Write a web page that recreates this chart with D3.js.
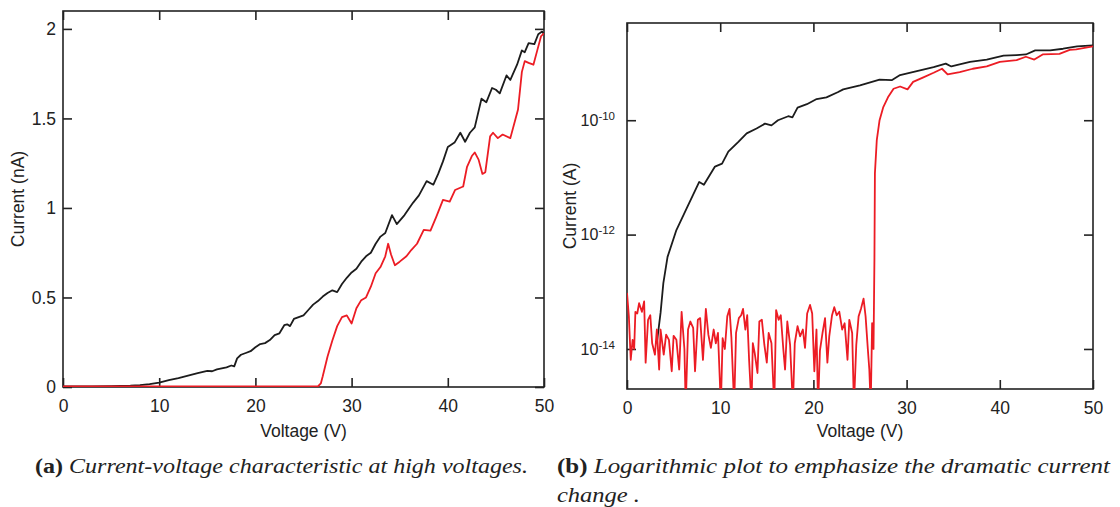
<!DOCTYPE html>
<html>
<head>
<meta charset="utf-8">
<script src="https://cdn.jsdelivr.net/npm/d3@7"></script>
<style>
body { margin: 0; background: #fff; }
svg text { font-family: "Liberation Sans", Arial, sans-serif; fill: #222; }
.cap text, text.cap { font-family: "Liberation Serif", "Times New Roman", serif; }
</style>
</head>
<body>
<svg id="fig" width="1120" height="507"></svg>
<script>
// panel (a): current in nA vs voltage
var voltTicks = [0, 10, 20, 30, 40, 50]
var linTicks = [0, 0.5, 1, 1.5, 2]
var logTicks = [1e-14, 1e-12, 1e-10]

var blackLin = [[0,0.003],[3,0.004],[5,0.005],[7,0.008],[8,0.011],[9,0.016],[10,0.025],[11,0.038],[12,0.05],[13,0.064],[14,0.078],[15,0.09],[15.5,0.088],[16,0.098],[17,0.11],[17.5,0.12],[17.8,0.115],[18.1,0.16],[18.5,0.18],[19,0.19],[19.5,0.2],[20,0.222],[20.5,0.24],[21,0.245],[21.5,0.262],[22,0.29],[22.5,0.3],[23,0.345],[23.3,0.35],[23.6,0.34],[24,0.38],[24.5,0.39],[25,0.4],[25.5,0.43],[26,0.46],[26.5,0.48],[27,0.505],[27.5,0.525],[28,0.54],[28.5,0.53],[29,0.575],[29.5,0.61],[30,0.64],[30.5,0.66],[31,0.7],[31.5,0.73],[32,0.75],[32.5,0.8],[33,0.84],[33.5,0.86],[34.2,0.96],[34.7,0.91],[35.5,0.96],[36,1.0],[36.4,1.03],[37,1.07],[37.8,1.15],[38.5,1.13],[39,1.19],[39.5,1.26],[40,1.34],[40.7,1.365],[41.3,1.42],[41.8,1.37],[42.3,1.42],[42.8,1.45],[43.5,1.61],[44,1.59],[44.6,1.67],[45,1.66],[45.4,1.64],[46.1,1.74],[46.5,1.715],[47.2,1.8],[47.7,1.88],[48,1.87],[48.4,1.92],[49,1.915],[49.4,1.97],[49.8,1.985],[50,1.97]]

var redLin = [[0,0.003],[10,0.003],[20,0.003],[26.5,0.003],[26.8,0.02],[27,0.06],[27.5,0.17],[28,0.26],[28.5,0.34],[29,0.39],[29.5,0.4],[30,0.355],[30.5,0.44],[31,0.485],[31.5,0.5],[32,0.56],[32.5,0.635],[33,0.67],[33.5,0.73],[33.8,0.8],[34.1,0.74],[34.5,0.68],[35,0.7],[35.7,0.73],[36.2,0.765],[36.8,0.8],[37.5,0.877],[38.2,0.873],[38.8,0.95],[39.5,1.045],[40.2,1.035],[40.75,1.1],[41.6,1.12],[42,1.23],[42.5,1.29],[42.8,1.31],[43.2,1.27],[43.6,1.19],[43.9,1.2],[44.4,1.4],[44.7,1.42],[45.2,1.39],[45.7,1.41],[46.5,1.39],[47,1.49],[47.3,1.55],[47.7,1.76],[48,1.82],[48.4,1.81],[48.9,1.8],[49.3,1.88],[49.7,1.96],[50,1.975]]

// panel (b): log10 of current in A vs voltage (-15 = dropped off the bottom)
var blackLog = [[3.2,-13.9],[3.6,-13.37],[3.9,-12.85],[4.35,-12.39],[5.3,-11.92],[6.4,-11.54],[7.75,-11.08],[8.25,-11.13],[9.44,-10.81],[10.2,-10.76],[10.87,-10.55],[11.95,-10.38],[12.84,-10.23],[13.9,-10.145],[14.8,-10.06],[15.5,-10.09],[16.2,-10.0],[17.3,-9.93],[17.75,-9.95],[18.3,-9.78],[19.3,-9.72],[20.35,-9.63],[21.4,-9.6],[22.6,-9.51],[23.2,-9.46],[25,-9.39],[27.1,-9.29],[28.4,-9.3],[29.3,-9.21],[31.1,-9.14],[32.9,-9.07],[34.2,-9.01],[34.8,-9.06],[36.8,-8.98],[38.6,-8.94],[40.4,-8.87],[41.8,-8.86],[42.8,-8.85],[43.8,-8.78],[45.4,-8.78],[46.8,-8.75],[48.3,-8.71],[50,-8.69]]

var redLog = [[0,-13.02],[0.2,-13.43],[0.4,-14.19],[0.6,-13.84],[0.77,-14.0],[0.9,-13.35],[1.1,-13.38],[1.3,-13.2],[1.6,-13.35],[1.84,-13.17],[2.0,-14.24],[2.26,-13.49],[2.5,-13.41],[2.7,-13.9],[3.0,-14.1],[3.2,-13.66],[3.45,-14.36],[3.6,-13.66],[3.94,-14.1],[4.2,-13.75],[4.5,-13.84],[4.8,-14.39],[5.0,-13.77],[5.3,-13.84],[5.6,-14.36],[5.86,-13.35],[6.16,-14.0],[6.3,-15],[6.55,-13.66],[6.8,-13.52],[7.1,-13.63],[7.3,-14.39],[7.6,-13.49],[7.85,-13.46],[8.15,-14.19],[8.46,-13.3],[8.73,-13.75],[9.0,-13.98],[9.3,-13.66],[9.53,-13.9],[9.76,-13.72],[10.07,-15],[10.26,-13.81],[10.5,-14.0],[10.76,-13.43],[11.0,-13.3],[11.2,-13.8],[11.5,-15],[11.7,-13.72],[12.0,-13.46],[12.25,-13.41],[12.45,-13.3],[12.7,-13.66],[12.9,-13.41],[13.1,-14.19],[13.36,-15],[13.5,-13.9],[13.7,-14.07],[14.0,-14.42],[14.2,-13.52],[14.47,-13.49],[14.74,-13.93],[15.0,-14.24],[15.2,-13.72],[15.5,-13.9],[15.8,-15],[16.0,-13.32],[16.27,-13.49],[16.5,-13.41],[16.77,-14.0],[16.96,-14.36],[17.2,-13.52],[17.5,-13.93],[17.8,-15],[18.0,-13.9],[18.3,-13.6],[18.57,-13.78],[18.87,-13.66],[19.1,-13.98],[19.33,-13.38],[19.64,-13.23],[19.87,-13.38],[20.1,-14.39],[20.33,-13.66],[20.5,-15],[20.7,-14.03],[20.98,-13.72],[21.25,-13.46],[21.5,-14.24],[21.7,-13.78],[22.0,-13.41],[22.24,-13.27],[22.5,-13.41],[22.78,-13.35],[23.09,-13.66],[23.35,-13.55],[23.66,-14.19],[23.85,-13.49],[24.16,-13.72],[24.35,-15],[24.6,-13.93],[24.85,-13.43],[25.1,-13.3],[25.38,-13.12],[25.6,-13.43],[25.84,-14.0],[26.0,-14.36],[26.15,-15],[26.3,-13.55],[26.45,-14.0],[26.55,-12.4],[26.6,-10.93],[26.8,-10.35],[27.1,-10.0],[27.5,-9.77],[28.0,-9.6],[28.6,-9.45],[29.3,-9.41],[30.1,-9.46],[30.7,-9.33],[31.8,-9.25],[32.9,-9.17],[33.8,-9.1],[34.4,-9.2],[35.7,-9.16],[37.1,-9.1],[38.6,-9.06],[40.0,-8.98],[41.8,-8.95],[42.8,-8.89],[43.7,-8.94],[44.6,-8.85],[46.4,-8.84],[47.5,-8.77],[48.2,-8.76],[50,-8.71]]

var svg = d3.select("#fig")
var TICK = 9
var FS = "17.5px"

function drawPanel(p) {
    var g = svg.append("g")
    var x = d3.scaleLinear().domain([0, 50]).range([p.left, p.right])
    var y = p.y

    g.append("clipPath").attr("id", p.id)
        .append("rect").attr("x", p.left).attr("y", p.top)
        .attr("width", p.right - p.left).attr("height", p.bottom - p.top)

    // axes, ticks inside on all four sides
    var bx = g.append("g").attr("transform", "translate(0," + p.bottom + ")")
        .call(d3.axisBottom(x).tickValues(voltTicks).tickSizeInner(-TICK).tickSizeOuter(0).tickPadding(13))
    var tx = g.append("g").attr("transform", "translate(0," + p.top + ")")
        .call(d3.axisTop(x).tickValues(voltTicks).tickSizeInner(-TICK).tickSizeOuter(0).tickFormat(""))
    var ly = g.append("g").attr("transform", "translate(" + p.left + ",0)")
        .call(d3.axisLeft(y).tickValues(p.yTicks).tickSizeInner(-TICK).tickSizeOuter(0).tickPadding(p.yPad).tickFormat(p.yFmt))
    var ry = g.append("g").attr("transform", "translate(" + p.right + ",0)")
        .call(d3.axisRight(y).tickValues(p.yTicks).tickSizeInner(-TICK).tickSizeOuter(0).tickFormat(""))

    ;[bx, tx, ly, ry].forEach(function(a) {
        a.select(".domain").remove()
        a.selectAll(".tick line").attr("stroke", "#222").attr("stroke-width", 1.6)
        a.selectAll("text").style("font-size", FS).attr("fill", "#222")
    })
    if (p.supers) {
        ly.selectAll(".tick text").each(function(d) {
            var t = d3.select(this).text("").style("font-size", "16px")
            t.append("tspan").text("10")
            t.append("tspan").attr("dy", "-0.5em").style("font-size", "11.5px").text(Math.round(Math.log10(d)))
        })
    }

    g.append("rect").attr("x", p.left).attr("y", p.top)
        .attr("width", p.right - p.left).attr("height", p.bottom - p.top)
        .attr("fill", "none").attr("stroke", "#222").attr("stroke-width", 1.6)

    var line = d3.line().x(function(d) { return x(d[0]) }).y(function(d) { return y(d[1]) })
    p.series.forEach(function(s) {
        g.append("path").datum(s.data)
            .attr("clip-path", "url(#" + p.id + ")")
            .attr("d", line)
            .attr("fill", "none")
            .attr("stroke", s.color)
            .attr("stroke-width", 1.8)
            .attr("stroke-linejoin", "round")
    })

    g.append("text").attr("x", (p.left + p.right) / 2).attr("y", 437)
        .attr("text-anchor", "middle").style("font-size", FS).text("Voltage (V)")
    g.append("text").attr("transform", "translate(" + p.labelX + "," + (p.top + p.bottom) / 2 + ") rotate(-90)")
        .attr("text-anchor", "middle").style("font-size", FS).text(p.yLabel)
}

drawPanel({
    id: "clipA", left: 63, right: 544, top: 11, bottom: 387,
    y: d3.scaleLinear().domain([0, 2.1]).range([387, 11]),
    yTicks: linTicks, yPad: 7, yFmt: d3.format(""),
    yLabel: "Current (nA)", labelX: 24,
    series: [{ data: blackLin, color: "#1c1c1c" }, { data: redLin, color: "#ec1c24" }]
})

var toAmp = function(d) { return [d[0], Math.pow(10, d[1])] }
drawPanel({
    id: "clipB", left: 627, right: 1093, top: 23, bottom: 389,
    y: d3.scaleLog().domain([Math.pow(10, -14.7), Math.pow(10, -8.3)]).range([389, 23]),
    yTicks: logTicks, yPad: 12, yFmt: function() { return "" }, supers: true,
    yLabel: "Current (A)", labelX: 576,
    series: [{ data: blackLog.map(toAmp), color: "#1c1c1c" }, { data: redLog.map(toAmp), color: "#ec1c24" }]
})

// captions (stretched to the width of the original serif)
function caption(x, y, tag, lines, widths) {
    var t = svg.append("text").attr("class", "cap").attr("x", x).attr("y", y).style("font-size", "20px")
        .attr("textLength", widths[0]).attr("lengthAdjust", "spacingAndGlyphs")
    t.append("tspan").style("font-weight", "bold").text(tag + " ")
    t.append("tspan").style("font-style", "italic").text(lines[0])
    if (lines[1]) {
        svg.append("text").attr("class", "cap").attr("x", x).attr("y", y + 29)
            .style("font-size", "20px").style("font-style", "italic")
            .attr("textLength", widths[1]).attr("lengthAdjust", "spacingAndGlyphs").text(lines[1])
    }
}
caption(35, 473, "(a)", ["Current-voltage characteristic at high voltages."], [493])
caption(557, 473, "(b)", ["Logarithmic plot to emphasize the dramatic current", "change ."], [553, 83])
</script>
</body>
</html>
